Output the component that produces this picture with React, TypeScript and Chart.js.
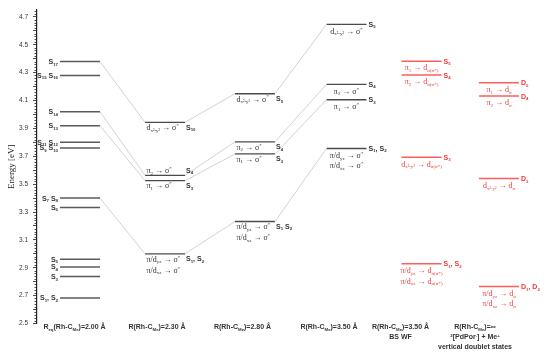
import React, { useEffect, useRef } from "react";
import { Chart, registerables } from "chart.js";

Chart.register(...registerables);

// ---------------- data ----------------
const yTickLabels = [2.5, 2.7, 2.9, 3.1, 3.3, 3.5, 3.7, 3.9, 4.1, 4.3, 4.5, 4.7];

const columnLabels: string[][] = [
  ["R_{eq}(Rh-C_{Me})=2.00 Å"],
  ["R(Rh-C_{Me})=2.30 Å"],
  ["R(Rh-C_{Me})=2.80 Å"],
  ["R(Rh-C_{Me})=3.50 Å"],
  ["R(Rh-C_{Me})=3.50 Å", "BS WF"],
  ["R(Rh-C_{Me})=∞", "^{2}[PdPor^{-}] + Me^{+}", "vertical doublet states"],
];

// Column 1: R_eq = 2.00 Å
const col1Energies = [4.38, 4.28, 4.02, 3.92, 3.8, 3.76, 3.4, 3.333, 2.962, 2.906, 2.837, 2.683];
const col1States = [
  "S_{17}", "S_{15} S_{16}", "S_{14}", "S_{13}", "S_{11} S_{12}", "S_{9} S_{10}",
  "S_{7} S_{8}", "S_{6}", "S_{5}", "S_{4}", "S_{3}", "S_{1}, S_{2}",
];

// Column 2: 2.30 Å
const col2Energies = [3.944, 3.563, 3.525, 3.0];
const col2States = ["S_{10}", "S_{4}", "S_{3}", "S_{1}, S_{2}"];
const col2Transitions = [
  ["d_{x²-y²} → σ^{*}"],
  ["π_{2} → σ^{*}"],
  ["π_{1} → σ^{*}"],
  ["π/d_{yz} → σ^{*}", "π/d_{xz} → σ^{*}"],
];

// Column 3: 2.80 Å
const col3Energies = [4.149, 3.804, 3.717, 3.232];
const col3States = ["S_{5}", "S_{4}", "S_{3}", "S_{1} S_{2}"];
const col3Transitions = [
  ["d_{x²-y²} → σ^{*}"],
  ["π_{2} → σ^{*}"],
  ["π_{1} → σ^{*}"],
  ["π/d_{yz} → σ^{*}", "π/d_{xz} → σ^{*}"],
];

// Column 4: 3.50 Å
const col4Energies = [4.647, 4.216, 4.106, 3.756];
const col4States = ["S_{5}", "S_{4}", "S_{3}", "S_{1}, S_{2}"];
const col4Transitions = [
  ["d_{x²-y²} → σ^{*}"],
  ["π_{2} → σ^{*}"],
  ["π_{1} → σ^{*}"],
  ["π/d_{yz} → σ^{*}", "π/d_{xz} → σ^{*}"],
];

// Column 5: 3.50 Å BS WF
const col5Energies = [4.383, 4.283, 3.693, 2.928];
const col5States = ["S_{5}", "S_{4}", "S_{3}", "S_{1}, S_{2}"];
const col5Transitions = [
  ["π_{1} → d_{σ}_{(σ*)}"],
  ["π_{2} → d_{σ}_{(σ*)}"],
  ["d_{x²-y²} → d_{σ}_{(σ*)}"],
  ["π/d_{yz} → d_{σ}_{(σ*)}", "π/d_{xz} → d_{σ}_{(σ*)}"],
];

// Column 6: infinity, doublet states
const col6Energies = [4.228, 4.132, 3.54, 2.765];
const col6States = ["D_{5}", "D_{4}", "D_{3}", "D_{1}, D_{2}"];
const col6Transitions = [
  ["π_{1} → d_{σ}"],
  ["π_{2} → d_{σ}"],
  ["d_{x²-y²} → d_{σ}"],
  ["π/d_{yz} → d_{σ}", "π/d_{xz} → d_{σ}"],
];

// correlation lines between neighbouring columns: [level in left column, level in right column]
const links12 = [[0, 0], [2, 1], [3, 2], [6, 3]];
const links23 = [[0, 0], [1, 1], [2, 2], [3, 3]];
const links34 = [[0, 0], [1, 1], [2, 2], [3, 3]];

// ---------------- layout / style ----------------
const COL_X = [43, 128, 218, 309.5, 384.5, 462];
const COL_LABEL_X = [37.5, 120, 205.5, 292, 363.5, 438];
const HALF = 20;
const SANS = '"Liberation Sans", Arial, sans-serif';
const SERIF = '"Liberation Serif", "Times New Roman", serif';
const DARK = "#333333";
const RED_LINE = "#ff5c5c";
const RED_TEXT = "#f03a3a";

type Col = {
  E: number[];
  states: string[];
  trans: string[][] | null;
  mode: "left" | "under" | "right";
  place?: string[];
  red?: boolean;
  lineColor: string;
  lineWidth: number;
};

const columns: Col[] = [
  { E: col1Energies, states: col1States, trans: null, mode: "left", lineColor: "#5a5a5a", lineWidth: 1.5 },
  { E: col2Energies, states: col2States, trans: col2Transitions, mode: "under", place: ["below", "above", "below", "below"], lineColor: "#4a4a4a", lineWidth: 1.3 },
  { E: col3Energies, states: col3States, trans: col3Transitions, mode: "under", place: ["below", "below", "below", "below"], lineColor: "#4a4a4a", lineWidth: 1.3 },
  { E: col4Energies, states: col4States, trans: col4Transitions, mode: "right", lineColor: "#4a4a4a", lineWidth: 1.3 },
  { E: col5Energies, states: col5States, trans: col5Transitions, mode: "right", red: true, lineColor: RED_LINE, lineWidth: 1.5 },
  { E: col6Energies, states: col6States, trans: col6Transitions, mode: "right", red: true, lineColor: RED_LINE, lineWidth: 1.5 },
];

function parseRich(s: string) {
  const segs: { t: string; m: number }[] = [];
  let buf = "";
  let i = 0;
  while (i < s.length) {
    const c = s[i];
    if ((c === "_" || c === "^") && s[i + 1] === "{") {
      if (buf) segs.push({ t: buf, m: 0 });
      buf = "";
      const end = s.indexOf("}", i + 2);
      segs.push({ t: s.slice(i + 2, end), m: c === "_" ? 1 : 2 });
      i = end + 1;
    } else {
      buf += c;
      i++;
    }
  }
  if (buf) segs.push({ t: buf, m: 0 });
  return segs;
}

function drawRich(
  ctx: CanvasRenderingContext2D,
  s: string,
  x: number,
  yMid: number,
  size: number,
  family: string,
  weight: string,
  color: string,
  align: "left" | "right" | "center"
) {
  const segs = parseRich(s);
  const small = size * 0.62;
  const font = (m: number) => `${weight} ${m ? small : size}px ${family}`;
  let w = 0;
  for (const g of segs) {
    ctx.font = font(g.m);
    w += ctx.measureText(g.t).width;
  }
  let cx = align === "left" ? x : align === "right" ? x - w : x - w / 2;
  const base = yMid + size * 0.35;
  ctx.fillStyle = color;
  ctx.textAlign = "left";
  ctx.textBaseline = "alphabetic";
  for (const g of segs) {
    ctx.font = font(g.m);
    const dy = g.m === 1 ? size * 0.22 : g.m === 2 ? -size * 0.38 : 0;
    ctx.fillText(g.t, cx, base + dy);
    cx += ctx.measureText(g.t).width;
  }
  return w;
}

const textPlugin = {
  id: "levelText",
  afterDatasetsDraw(chart: any) {
    const { ctx, chartArea } = chart;
    const x = chart.scales.x;
    const y = chart.scales.y;
    ctx.save();
    columns.forEach((col, ci) => {
      const x0 = x.getPixelForValue(COL_X[ci] - HALF);
      const x1 = x.getPixelForValue(COL_X[ci] + HALF);
      const xc = x.getPixelForValue(COL_X[ci]);
      const color = col.red ? RED_TEXT : DARK;
      col.E.forEach((e, li) => {
        const py = y.getPixelForValue(e);
        if (col.mode === "left") {
          drawRich(ctx, col.states[li], x0 - 2, py, 7, SANS, "bold", color, "right");
        } else if (col.mode === "under") {
          const above = col.place && col.place[li] === "above";
          const first = above ? py - 5 : py + 5;
          (col.trans as string[][])[li].forEach((t, k) =>
            drawRich(ctx, t, x0 + 1.5, first + k * 11, 8, SERIF, "normal", color, "left")
          );
          drawRich(ctx, col.states[li], x1 + 1, first, 7, SANS, "bold", color, "left");
        } else {
          drawRich(ctx, col.states[li], x1 + 2, py, 7, SANS, "bold", color, "left");
          (col.trans as string[][])[li].forEach((t, k) =>
            drawRich(ctx, t, xc, py + 6.5 + k * 10.5, 8, SERIF, "normal", color, "center")
          );
        }
      });
    });
    // column captions
    columnLabels.forEach((lines, ci) => {
      const cx = x.getPixelForValue(COL_LABEL_X[ci]);
      lines.forEach((t, k) => {
        drawRich(ctx, t, cx, chartArea.bottom + 3.5 + k * 10, 7, SANS, "bold", DARK, "center");
      });
    });
    // minor ticks on the energy axis
    ctx.strokeStyle = "#222";
    ctx.lineWidth = 0.8;
    const left = chartArea.left;
    for (let k = 0; k <= 112; k++) {
      if (k % 5 === 0) continue;
      const v = 2.5 + k * 0.02;
      if (v > y.max) break;
      const py = Math.round(y.getPixelForValue(v)) + 0.5;
      ctx.beginPath();
      ctx.moveTo(left - 2.5, py);
      ctx.lineTo(left, py);
      ctx.stroke();
    }
    ctx.restore();
  },
};

export default function App() {
  const ref = useRef<HTMLCanvasElement | null>(null);

  useEffect(() => {
    if (!ref.current) return;
    const datasets: any[] = [];
    const addLinks = (links: number[][], a: number, b: number) => {
      links.forEach(([i, j]) => {
        datasets.push({
          data: [
            { x: COL_X[a] + HALF, y: columns[a].E[i] },
            { x: COL_X[b] - HALF, y: columns[b].E[j] },
          ],
          borderColor: "#c6c6c6",
          borderWidth: 0.8,
          pointRadius: 0,
        });
      });
    };
    addLinks(links12, 0, 1);
    addLinks(links23, 1, 2);
    addLinks(links34, 2, 3);
    columns.forEach((col, ci) => {
      col.E.forEach((e) => {
        datasets.push({
          data: [
            { x: COL_X[ci] - HALF, y: e },
            { x: COL_X[ci] + HALF, y: e },
          ],
          borderColor: col.lineColor,
          borderWidth: col.lineWidth,
          pointRadius: 0,
        });
      });
    });

    const chart = new Chart(ref.current, {
      type: "line",
      data: { datasets },
      options: {
        responsive: false,
        animation: false,
        events: [],
        layout: { padding: { top: 10, bottom: 31.5, left: 0, right: 0 } },
        plugins: { legend: { display: false }, tooltip: { enabled: false } },
        scales: {
          x: { type: "linear", min: 0, max: 513, display: false },
          y: {
            type: "linear",
            min: 2.5,
            max: 4.75,
            afterBuildTicks: (scale: any) => {
              const t = [];
              for (let k = 0; k <= 22; k++) t.push({ value: +(2.5 + k * 0.1).toFixed(1) });
              scale.ticks = t;
            },
            afterFit: (scale: any) => {
              scale.width = 37;
            },
            ticks: {
              autoSkip: false,
              padding: 5,
              color: DARK,
              font: { family: SANS, size: 6.5 },
              callback: (v: any) => {
                const n = Number(v);
                return yTickLabels.some((l) => Math.abs(l - n) < 1e-6) ? n.toFixed(1) : "";
              },
            },
            grid: { drawOnChartArea: false, drawTicks: true, tickLength: 4, tickColor: "#222", tickWidth: 0.8 },
            border: { display: true, color: "#222", width: 1.2 },
            title: {
              display: true,
              text: "Energy [eV]",
              color: "#222",
              font: { family: SERIF, size: 9 },
              padding: { top: 6, bottom: 0 },
            },
          },
        },
      } as any,
      plugins: [textPlugin],
    });
    return () => chart.destroy();
  }, []);

  return (
    <div style={{ position: "fixed", left: 0, top: 0, width: 550, height: 355, background: "#fff" }}>
      <canvas ref={ref} width={550} height={355} style={{ display: "block" }} />
    </div>
  );
}
